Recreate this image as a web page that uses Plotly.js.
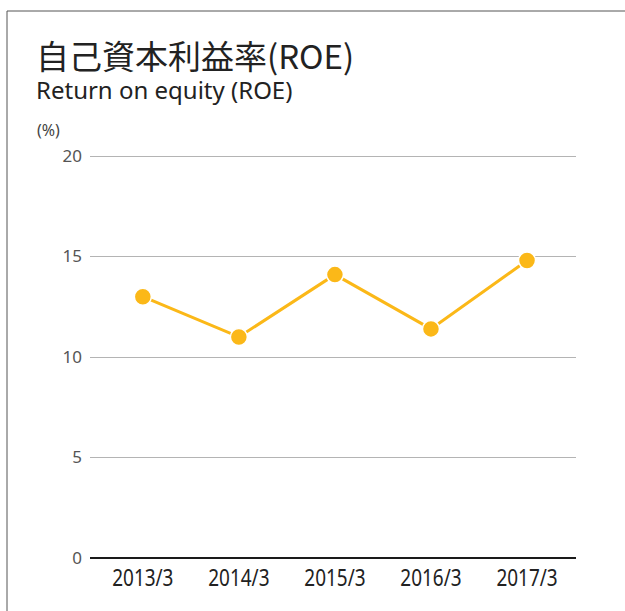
<!DOCTYPE html>
<html>
<head>
<meta charset="utf-8">
<script src="https://cdn.plot.ly/plotly-3.0.1.min.js"></script>
<style>
  html, body { margin: 0; padding: 0; background: #fff; }
  #chart { width: 625px; height: 611px; }
  #chart g.xtick { transform-box: fill-box; transform-origin: center; transform: scaleX(0.79); }
</style>
</head>
<body>
<div id="chart"></div>
<script>
const categories = ["2013/3", "2014/3", "2015/3", "2016/3", "2017/3"];
const roeValues = [13.0, 11.0, 14.1, 11.4, 14.8];
const yTickValues = [0, 5, 10, 15, 20];
const titleJa = "自己資本利益率(ROE)";
const titleEn = "Return on equity (ROE)";
const unitLabel = "(%)";

const W = 625, H = 611;
const L = 90, R = 576, T = 146, B = 558;
const px = x => (x - L) / (R - L);
const py = y => (B - y) / (B - T);

const trace = {
  type: "scatter",
  mode: "lines+markers",
  x: categories.map((c, i) => i),
  y: roeValues,
  line: { color: "#FBB818", width: 3 },
  marker: { color: "#FBB818", size: 17, line: { color: "#ffffff", width: 1.5 } },
  hoverinfo: "skip",
  cliponaxis: false
};

const titleText =
  '<span style="font-family:\'Noto Sans CJK JP\', sans-serif;font-size:33px">' + titleJa + '</span>' +
  '<br><span style="font-family:\'Noto Sans\', sans-serif;font-size:24px">' + titleEn + '</span>';

const layout = {
  width: W, height: H,
  margin: { l: L, r: W - R, t: T, b: H - B, pad: 0 },
  paper_bgcolor: "#ffffff",
  plot_bgcolor: "#ffffff",
  showlegend: false,
  font: { family: "Noto Sans, sans-serif", color: "#333" },
  xaxis: {
    range: [-0.55, 4.51],
    tickmode: "array",
    tickvals: categories.map((c, i) => i),
    ticktext: categories,
    showgrid: false,
    zeroline: false,
    showline: false,
    ticks: "",
    ticklabelstandoff: 3,
    tickfont: { family: "Noto Sans, sans-serif", size: 24, color: "#222" },
    fixedrange: true
  },
  yaxis: {
    range: [0, 20.5],
    tickmode: "array",
    tickvals: yTickValues,
    ticktext: yTickValues.map(String),
    showgrid: true,
    gridcolor: "#b4b4b4",
    gridwidth: 1,
    zeroline: false,
    showline: false,
    ticks: "",
    ticklabelstandoff: 7,
    tickfont: { family: "Noto Sans, sans-serif", size: 17, color: "#555" },
    fixedrange: true
  },
  shapes: [
    { type: "line", xref: "paper", yref: "paper", x0: 0, x1: 1, y0: 0, y1: 0,
      line: { color: "#1a1a1a", width: 2 } },
    { type: "line", xref: "paper", yref: "paper", x0: px(7), x1: px(7), y0: py(11), y1: py(611),
      line: { color: "#555", width: 1 } },
    { type: "line", xref: "paper", yref: "paper", x0: px(7), x1: px(625), y0: py(11), y1: py(11),
      line: { color: "#555", width: 1 } }
  ],
  annotations: [
    { text: titleText, xref: "paper", yref: "paper", x: px(35), y: py(30), xanchor: "left", yanchor: "top",
      align: "left", borderpad: 0, showarrow: false,
      font: { family: "Noto Sans, sans-serif", size: 23, color: "#222" } },
    { text: unitLabel, xref: "paper", yref: "paper", x: px(35), y: py(117), xanchor: "left", yanchor: "top",
      showarrow: false, font: { family: "Noto Sans, sans-serif", size: 16, color: "#444" } }
  ]
};

Plotly.newPlot("chart", [trace], layout, { displayModeBar: false, staticPlot: true });
</script>
</body>
</html>
